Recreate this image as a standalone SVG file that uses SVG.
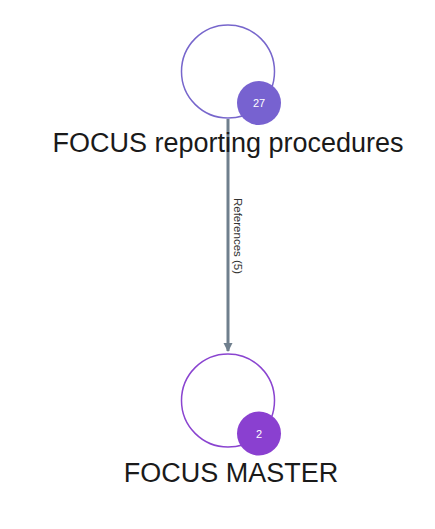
<svg xmlns="http://www.w3.org/2000/svg" width="435" height="529" viewBox="0 0 435 529">
<defs>
<style>
.node-ring{fill:#ffffff;stroke-width:1.5}
.label{font-family:"Liberation Sans",Arial,sans-serif;font-size:27px;fill:#1a1a1a;text-anchor:middle}
.badge-text{font-family:"Liberation Sans",Arial,sans-serif;font-size:11px;fill:#ffffff;text-anchor:middle}
.edge{stroke:#6f7f8d;stroke-width:3;fill:none}
.edge-label{font-family:"Liberation Sans",Arial,sans-serif;font-size:11.5px;fill:#333333;text-anchor:middle}
</style>
<marker id="arrow" markerWidth="10" markerHeight="10" refX="8" refY="5" orient="auto" markerUnits="userSpaceOnUse">
<path d="M0,0.5 L9,5 L0,9.5 Z" fill="#6f7f8d"/>
</marker>
</defs>
<rect width="435" height="529" fill="#ffffff"/>
<g id="connectors">
<line class="edge" x1="228" y1="119" x2="228" y2="351" marker-end="url(#arrow)"/>
<text class="edge-label" transform="translate(233.5,236) rotate(90)">References (5)</text>
</g>
<g id="node-focus-reporting">
<circle class="node-ring" cx="228" cy="71.5" r="46.5" stroke="#7766cc"/>
<circle cx="259" cy="103" r="22" fill="#7762d0"/>
<text class="badge-text" x="259" y="107">27</text>
<text class="label" x="228" y="152">FOCUS reporting procedures</text>
</g>
<g id="node-focus-master">
<circle class="node-ring" cx="228" cy="400.5" r="46.5" stroke="#8a44d0"/>
<circle cx="259" cy="433.5" r="22" fill="#8a40d0"/>
<text class="badge-text" x="259" y="437.5">2</text>
<text class="label" x="231" y="481.5">FOCUS MASTER</text>
</g>
</svg>
